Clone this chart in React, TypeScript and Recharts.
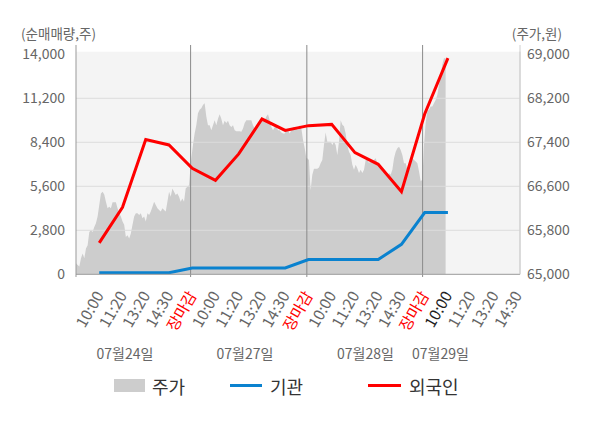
import React from 'react';
import { ComposedChart, Area, Line, XAxis, YAxis, ReferenceLine, CartesianGrid } from 'recharts';

// ---------- data ----------
const dayLabels = ['07월24일', '07월27일', '07월28일', '07월29일'];

const timeTickLabels = [
  '10:00', '11:20', '13:20', '14:30', '장마감',
  '10:00', '11:20', '13:20', '14:30', '장마감',
  '10:00', '11:20', '13:20', '14:30', '장마감',
  '10:00', '11:20', '13:20', '14:30',
];

// foreign / institution net buying (shares), one value per tick slot
const foreignNet = [2000, 4260, 8570, 8230, 6750, 5980, 7660, 9880, 9160, 9460, 9540, 7740, 7000, 5260, 10200, 13760];
const institutionNet = [100, 100, 100, 100, 400, 400, 400, 400, 400, 940, 940, 940, 940, 1910, 3930, 3930];

// intraday price (won)
const priceDay1 = [
  65200, 65170, 65140, 65290, 65380, 65290, 65470, 65530, 65770, 65800,
  65770, 65860, 65930, 66050, 66260, 66470, 66500, 66450, 66320, 66200,
  66230, 66200, 66310, 66310, 66310, 66200, 66110, 66050, 65960, 65900,
  65680, 65710, 65650, 65740, 65900, 66050, 66110, 66110, 66080, 66110,
  66020, 66050, 65960, 66110, 66080, 66140, 66230, 66320, 66260, 66200,
  66170, 66140, 66200, 66170, 66140, 66320, 66500, 66410, 66560, 66500,
  66440, 66470, 66410, 66320, 66380, 66320, 66560, 66590, 66620, 66990,
];
const priceDay2 = [
  67110, 67350, 67560, 67710, 67930, 67990, 68020, 68080, 68110, 67870,
  67710, 67710, 67620, 67710, 67800, 67710, 67830, 67910, 67830, 67710,
  67790, 67750, 67790, 67710, 67680, 67710, 67620, 67600, 67600, 67600,
  67590, 67650, 67750, 67800, 67800, 67800, 67800, 67710, 67650, 67680,
  67750, 67790, 67800, 67780, 67800, 67870, 67910, 67800, 67680, 67620,
  67680, 67680, 67620, 67620, 67580, 67560, 67560, 67620, 67620, 67560,
  67620, 67680, 67680, 67670, 67620, 67710, 67650, 67440, 67290, 67110,
];
const priceDay3 = [
  67110, 67080, 66530, 66810, 66920, 66920, 66920, 66940, 67020, 67080,
  67350, 67580, 67410, 67410, 67410, 67350, 67410, 67350, 67170, 67410,
  67800, 67720, 67690, 67560, 67350, 67230, 67170, 66990, 66900, 66990,
  66930, 66840, 66900, 66840, 66900, 67080, 67110, 67020, 67080, 67050,
  67080, 67110, 67020, 66960, 66930, 66870, 66870, 66810, 66780, 66840,
  66810, 66900, 67110, 67230, 67290, 67320, 67260, 67170, 67020, 67020,
  66900, 66990, 67050, 67110, 67080, 67050, 67020, 66870, 66690, 66720,
];
const priceDay4 = [
  67350, 67750, 67960, 67990, 68050, 68050, 68110, 68170, 68260, 68440,
  68620, 68810, 68930, 68930,
];

// ---------- axis layout (slot units on the time axis) ----------
const priceDays = [priceDay1, priceDay2, priceDay3, priceDay4];
const daySpans: [number, number][] = [[0, 49.33], [49.6, 99.1], [99.5, 149.0], [149.7, 159.0]];
const tickSlots = timeTickLabels.map((_, i) => 10 + i * 10);
const dayBoundaries = [49.3, 99.3, 149.1];
const X_DOMAIN: [number, number] = [0, 191];
const LEFT_MAX = 14165;
const LEFT_TICKS = [0, 2800, 5600, 8400, 11200, 14000];
const RIGHT_TICKS = [65000, 65800, 66600, 67400, 68200, 69000];
const RIGHT_DOMAIN: [number, number] = [65000, 65000 + (4000 * LEFT_MAX) / 14000];

const priceData = priceDays.flatMap((vals, d) => {
  const [s, e] = daySpans[d];
  return vals.map((v, j) => ({ x: s + ((e - s) * j) / (vals.length - 1), price: v }));
});
const flowData = foreignNet.map((f, i) => ({
  x: tickSlots[i],
  foreign: f,
  inst: institutionNet[i],
}));

const FONT = "'Noto Sans CJK KR', 'Noto Sans', sans-serif";
const RED = '#ff0000';
const BLUE = '#0a82cf';
const AREA = '#cdcdcd';

const fmt = (v: number) => v.toLocaleString('en-US');

const XTick = (props: any) => {
  const { x, y, index } = props;
  const label = timeTickLabels[index] ?? '';
  let color = '#666';
  if (label === '장마감') color = RED;
  else if (index === 15) color = '#222';
  const ax = x + 5;
  const ay = y + 21;
  return (
    <text
      x={ax}
      y={ay}
      transform={`rotate(-60, ${ax}, ${ay})`}
      textAnchor="end"
      fill={color}
      fontSize={15.5}
      fontFamily={FONT}
    >
      {label}
    </text>
  );
};

const dateCenters = [125, 245, 365.5, 440.5];

export default function App() {
  return (
    <div style={{ position: 'absolute', left: 0, top: 0, width: 600, height: 428, background: '#fff' }}>
      <ComposedChart
        width={600}
        height={428}
        margin={{ top: 51.7, right: 0, bottom: 0, left: 0 }}
        style={{ fontFamily: FONT }}
      >
        <CartesianGrid yAxisId="left" horizontal={false} vertical={false} fill="#f4f4f4" stroke="none" />
        <XAxis
          type="number"
          dataKey="x"
          domain={X_DOMAIN}
          ticks={tickSlots}
          interval={0}
          allowDataOverflow
          height={153.7}
          axisLine={{ stroke: '#999' }}
          tickLine={false}
          tickSize={0}
          tickMargin={0}
          tick={<XTick />}
        />
        <YAxis
          yAxisId="left"
          orientation="left"
          width={76}
          domain={[0, LEFT_MAX]}
          ticks={LEFT_TICKS}
          interval={0}
          allowDataOverflow
          axisLine={false}
          tickLine={false}
          tickSize={0}
          tickMargin={11}
          tickFormatter={fmt}
          tick={{ fill: '#666', fontSize: 14, fontFamily: FONT }}
        />
        <YAxis
          yAxisId="right"
          orientation="right"
          width={80}
          domain={RIGHT_DOMAIN}
          ticks={RIGHT_TICKS}
          interval={0}
          allowDataOverflow
          axisLine={{ stroke: '#d0d0d0' }}
          tickLine={false}
          tickSize={0}
          tickMargin={7}
          tickFormatter={fmt}
          tick={{ fill: '#666', fontSize: 14, fontFamily: FONT, textAnchor: 'start' }}
        />
        <Area
          yAxisId="right"
          data={priceData}
          dataKey="price"
          type="linear"
          fill={AREA}
          fillOpacity={1}
          stroke="none"
          isAnimationActive={false}
          dot={false}
          activeDot={false}
        />
        {LEFT_TICKS.filter((t) => t > 0 && t < 14000).map((t) => (
          <ReferenceLine key={t} yAxisId="left" y={t} stroke="#dcdcdc" strokeWidth={1} />
        ))}
        <ReferenceLine
          yAxisId="left"
          ifOverflow="visible"
          segment={[{ x: 0, y: 14592 }, { x: 0, y: -170 }]}
          stroke="#999"
          strokeWidth={1}
        />
        <ReferenceLine
          yAxisId="left"
          ifOverflow="visible"
          segment={[{ x: 191, y: 14592 }, { x: 191, y: 0 }]}
          stroke="#d0d0d0"
          strokeWidth={1}
        />
        {dayBoundaries.map((b) => (
          <ReferenceLine
            key={b}
            yAxisId="left"
            ifOverflow="visible"
            segment={[{ x: b, y: 14592 }, { x: b, y: -170 }]}
            stroke="#8a8a8a"
            strokeWidth={1}
          />
        ))}
        <Line
          yAxisId="left"
          data={flowData}
          dataKey="inst"
          type="linear"
          stroke={BLUE}
          strokeWidth={3}
          dot={false}
          activeDot={false}
          isAnimationActive={false}
        />
        <Line
          yAxisId="left"
          data={flowData}
          dataKey="foreign"
          type="linear"
          stroke={RED}
          strokeWidth={3}
          dot={false}
          activeDot={false}
          isAnimationActive={false}
        />
      </ComposedChart>
      <svg
        width={600}
        height={428}
        style={{ position: 'absolute', left: 0, top: 0, pointerEvents: 'none' }}
        fontFamily={FONT}
      >
        <text x={21} y={33} fill="#666" fontSize={13.5} dominantBaseline="central">(순매매량,주)</text>
        <text x={562} y={33} fill="#666" fontSize={13.5} dominantBaseline="central" textAnchor="end">(주가,원)</text>
        {dayLabels.map((d, i) => (
          <text key={d} x={dateCenters[i]} y={353} fill="#666" fontSize={14} textAnchor="middle" dominantBaseline="central">
            {d}
          </text>
        ))}
        <rect x={114} y={379} width={31} height={13} fill={AREA} />
        <text x={152} y={386} fill="#333" fontSize={18} dominantBaseline="central">주가</text>
        <line x1={230} x2={262} y1={385.5} y2={385.5} stroke={BLUE} strokeWidth={3} />
        <text x={270} y={386} fill="#333" fontSize={18} dominantBaseline="central">기관</text>
        <line x1={368} x2={401} y1={385.5} y2={385.5} stroke={RED} strokeWidth={3} />
        <text x={409} y={386} fill="#333" fontSize={18} dominantBaseline="central">외국인</text>
      </svg>
    </div>
  );
}
